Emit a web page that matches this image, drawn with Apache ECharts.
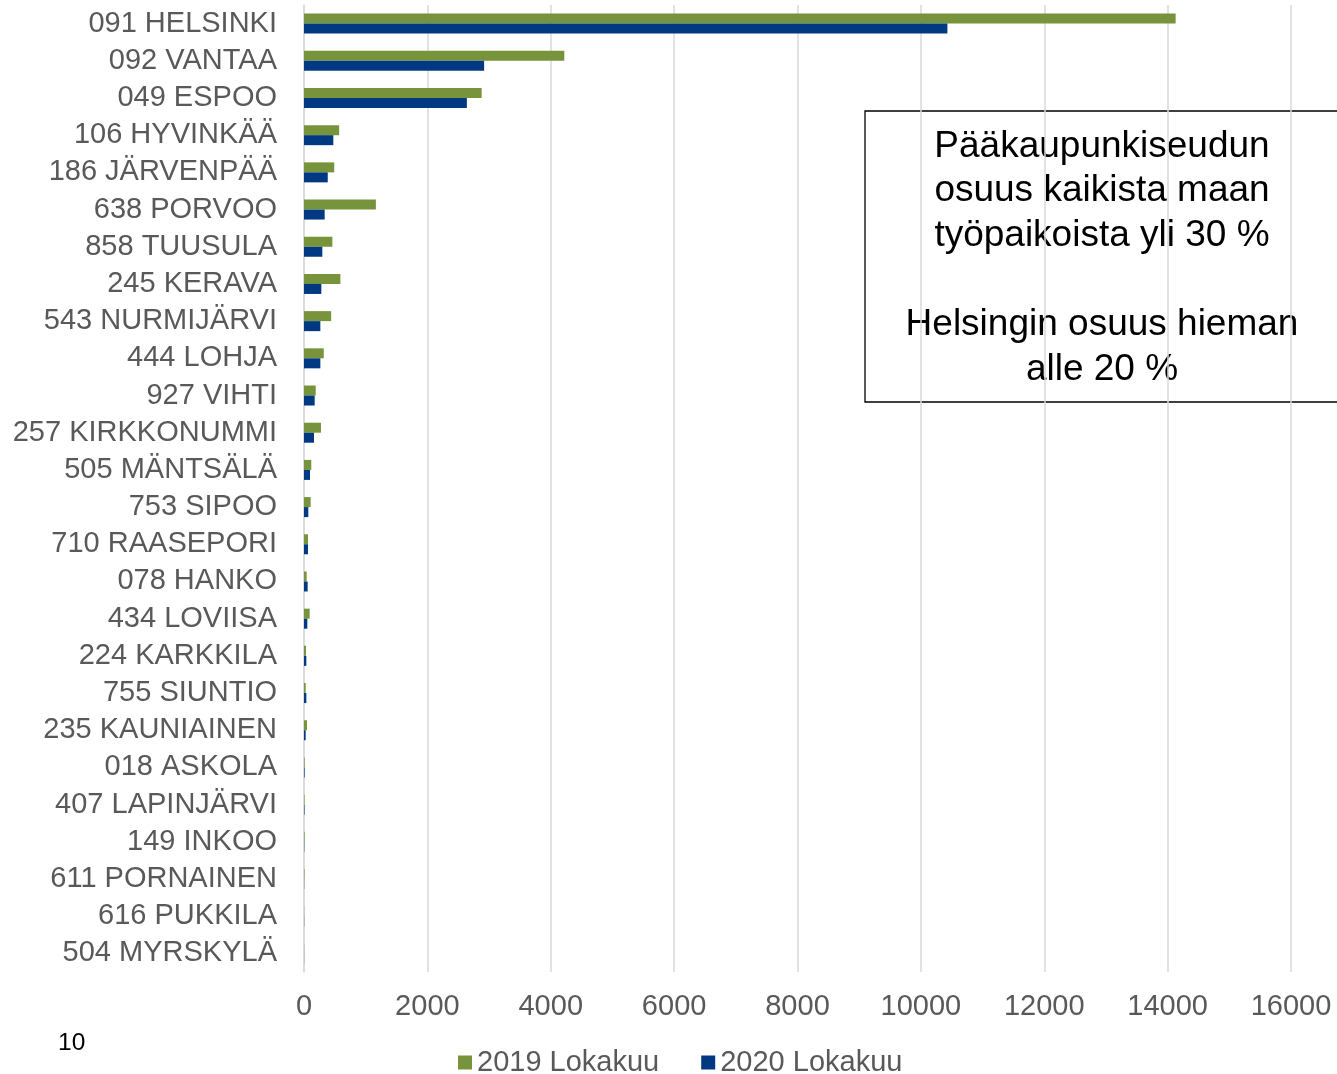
<!DOCTYPE html>
<html><head><meta charset="utf-8">
<script src="https://cdn.jsdelivr.net/npm/echarts@6/dist/echarts.min.js"></script>
<style>html,body{margin:0;padding:0;background:#fff}#c{width:1337px;height:1074px}</style>
</head><body><div id="c"></div>
<script>
const categories = ["091 HELSINKI","092 VANTAA","049 ESPOO","106 HYVINKÄÄ","186 JÄRVENPÄÄ","638 PORVOO","858 TUUSULA","245 KERAVA","543 NURMIJÄRVI","444 LOHJA","927 VIHTI","257 KIRKKONUMMI","505 MÄNTSÄLÄ","753 SIPOO","710 RAASEPORI","078 HANKO","434 LOVIISA","224 KARKKILA","755 SIUNTIO","235 KAUNIAINEN","018 ASKOLA","407 LAPINJÄRVI","149 INKOO","611 PORNAINEN","616 PUKKILA","504 MYRSKYLÄ"];
const values2019 = [14130,4220,2880,570,490,1165,460,590,440,320,190,275,118,108,65,43,92,32,27,49,10,8,10,8,3,3];
const values2020 = [10430,2920,2640,475,385,335,297,281,265,265,173,162,97,70,65,59,54,38,38,27,10,8,5,3,3,2];
const seriesNames = ["2019 Lokakuu","2020 Lokakuu"];
const xTicks = {min:0,max:16000,interval:2000};
const boxText = "Pääkaupunkiseudun\nosuus kaikista maan\ntyöpaikoista yli 30 %\n\nHelsingin osuus hieman\nalle 20 %";
const pageNumber = "10";
</script>
<script>
const chart = echarts.init(document.getElementById('c'));
const font = "Liberation Sans, Arial, sans-serif";
chart.setOption({
  animation:false,
  grid:{left:304,right:46,top:5,bottom:102,containLabel:false},
  legend:{top:1048,left:458,padding:0,itemWidth:14,itemHeight:14,itemGap:42,icon:'rect',
    textStyle:{fontFamily:font,fontSize:29,color:'#595959'},data:seriesNames},
  xAxis:{type:'value',min:xTicks.min,max:xTicks.max,interval:xTicks.interval,
    axisLine:{show:false},axisTick:{show:false},
    splitLine:{lineStyle:{color:'#d9d9d9',width:1.5}},
    axisLabel:{fontFamily:font,fontSize:29,color:'#595959',margin:20,formatter:v=>String(v)}},
  yAxis:{type:'category',inverse:true,data:categories,
    axisLine:{lineStyle:{color:'#d9d9d9',width:1.5}},axisTick:{show:false},
    axisLabel:{interval:0,fontFamily:font,fontSize:29,color:'#595959',margin:27}},
  series:[
    {name:seriesNames[0],type:'bar',data:values2019,barWidth:10,barGap:'0%',itemStyle:{color:'#77933C'}},
    {name:seriesNames[1],type:'bar',data:values2020,barWidth:10,barGap:'0%',itemStyle:{color:'#003882'}}
  ],
  graphic:[
    {type:'rect',x:865,y:111,shape:{width:480,height:291},style:{fill:'#fff',stroke:'#000',lineWidth:1.3}},
    {type:'text',x:1102,y:124,style:{text:boxText,align:'center',verticalAlign:'top',
      fontFamily:font,fontSize:37,lineHeight:44.6,fill:'#000'}},
    {type:'text',x:58,y:1031,style:{text:pageNumber,fontFamily:font,fontSize:24.5,fill:'#000'}}
  ]
});
</script>
</body></html>
